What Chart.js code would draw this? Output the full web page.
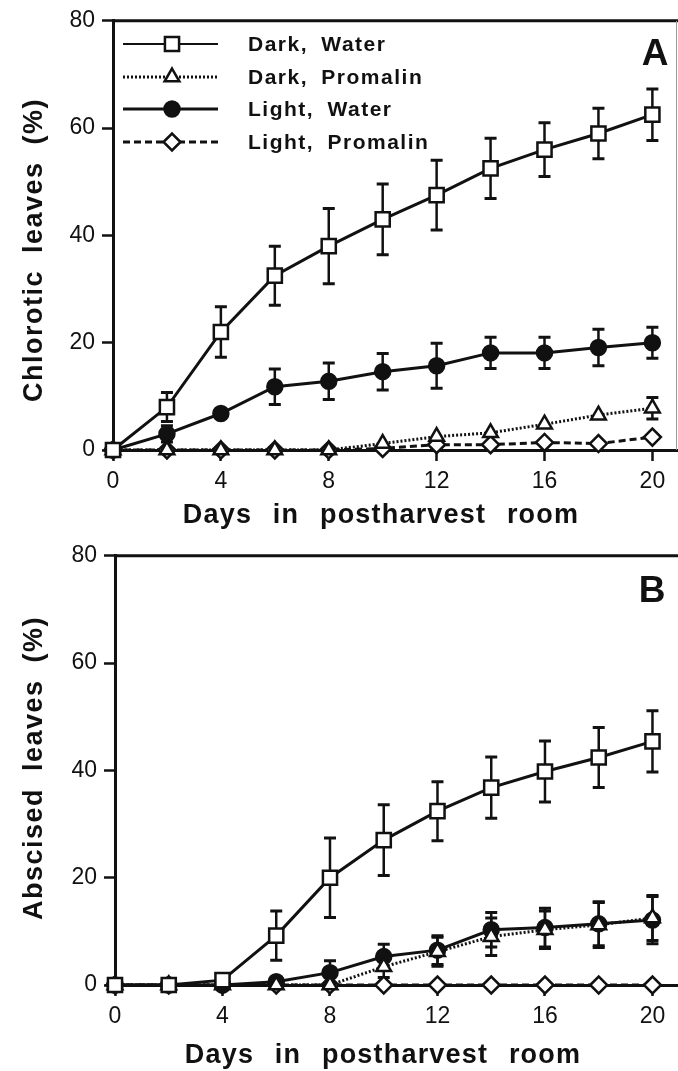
<!DOCTYPE html>
<html>
<head>
<meta charset="utf-8">
<title>Chlorotic and abscised leaves</title>
<script src="https://cdn.jsdelivr.net/npm/chart.js@4.4.1/dist/chart.umd.min.js"></script>
<style>
    html, body { margin: 0; padding: 0; background: #fff; overflow: hidden; }
    .panel { position: absolute; left: 0; width: 678px; }
    #panel-a { top: 0; height: 535px; }
    #panel-b { top: 535px; height: 536px; }
</style>
</head>
<body>
<div class="panel" id="panel-a"><canvas id="chartA" width="678" height="535"></canvas></div>
<div class="panel" id="panel-b"><canvas id="chartB" width="678" height="536"></canvas></div>
<script>
// Shared axis data
const days = [0, 2, 4, 6, 8, 10, 12, 14, 16, 18, 20];
const xTicks = [0, 4, 8, 12, 16, 20];
const yTicks = [0, 20, 40, 60, 80];
const seriesLabels = ['Dark, Water', 'Dark, Promalin', 'Light, Water', 'Light, Promalin'];

// Panel A - chlorotic leaves (%)
const chloroticDarkWater = [0, 8, 22, 32.5, 38, 43, 47.5, 52.5, 56, 59, 62.5];
const chloroticDarkWaterErr = [0, 2.7, 4.7, 5.5, 7, 6.6, 6.5, 5.6, 5, 4.7, 4.8];
const chloroticDarkPromalin = [0, 0, 0, 0, 0, 1.2, 2.5, 3.2, 4.8, 6.5, 7.8];
const chloroticDarkPromalinErr = [0, 0, 0, 0, 0, 0, 0, 0, 0, 0, 2];
const chloroticLightWater = [0, 3, 6.8, 11.8, 12.8, 14.6, 15.7, 18.1, 18.1, 19.1, 20];
const chloroticLightWaterErr = [0, 1.5, 0, 3.3, 3.4, 3.4, 4.2, 2.9, 2.9, 3.4, 2.9];
const chloroticLightPromalin = [0, 0, 0, 0, 0, 0.3, 1, 1, 1.4, 1.2, 2.4];
const chloroticLightPromalinErr = [0, 0, 0, 0, 0, 0, 0, 0, 0, 0, 0];

// Panel B - abscised leaves (%)
const abscisedDarkWater = [0, 0, 0.9, 9.2, 20, 27, 32.4, 36.8, 39.8, 42.4, 45.4];
const abscisedDarkWaterErr = [0, 0, 1, 4.6, 7.4, 6.6, 5.5, 5.7, 5.7, 5.6, 5.7];
const abscisedDarkPromalin = [0, 0, 0, 0, 0, 3.4, 6.2, 9, 10.3, 11.2, 12.5];
const abscisedDarkPromalinErr = [0, 0, 0, 0, 0, 2, 2.7, 3.5, 3.5, 4.2, 4.2];
const abscisedLightWater = [0, 0, 0, 0.6, 2.3, 5.3, 6.5, 10.3, 10.7, 11.4, 12.1];
const abscisedLightWaterErr = [0, 0, 0, 0, 2.2, 2.3, 2.7, 3.2, 3.6, 4.1, 4.4];
const abscisedLightPromalin = [0, 0, 0, 0, 0, 0, 0, 0, 0, 0, 0];
const abscisedLightPromalinErr = [0, 0, 0, 0, 0, 0, 0, 0, 0, 0, 0];

const INK = '#111';
const FONT_FAMILY = '"Liberation Sans", Arial, Helvetica, sans-serif';

// Marker and line look for each treatment (same order as seriesLabels)
const seriesStyles = [
    { pointStyle: 'rect', radius: 10, fill: '#fff', dash: [], width: 3 },
    { pointStyle: 'triangle', radius: 8.5, fill: '#fff', dash: [2, 2], width: 3 },
    { pointStyle: 'circle', radius: 7.5, fill: INK, dash: [], width: 3 },
    { pointStyle: 'rectRot', radius: 8.5, fill: '#fff', dash: [7, 4], width: 3 }
];

document.addEventListener('DOMContentLoaded', function() {
    createPanel('chartA', {
        values: [chloroticDarkWater, chloroticDarkPromalin, chloroticLightWater, chloroticLightPromalin],
        errors: [chloroticDarkWaterErr, chloroticDarkPromalinErr, chloroticLightWaterErr, chloroticLightPromalinErr],
        padding: { left: 53, top: 17, right: 0, bottom: 35 },
        decor: {
            yTitle: 'Chlorotic leaves (%)',
            yTitlePos: [42, 250],
            xTitle: 'Days in postharvest room',
            xTitlePos: [381, 523],
            label: 'A',
            labelPos: [655, 65],
            legend: true,
            rightBorder: true
        }
    });

    createPanel('chartB', {
        values: [abscisedDarkWater, abscisedDarkPromalin, abscisedLightWater, abscisedLightPromalin],
        errors: [abscisedDarkWaterErr, abscisedDarkPromalinErr, abscisedLightWaterErr, abscisedLightPromalinErr],
        padding: { left: 55, top: 19, right: 0, bottom: 36 },
        decor: {
            yTitle: 'Abscised leaves (%)',
            yTitlePos: [42, 233],
            xTitle: 'Days in postharvest room',
            xTitlePos: [383, 528],
            label: 'B',
            labelPos: [652, 67],
            legend: false,
            rightBorder: false
        }
    });
});

// Build one panel (line chart with error bars)
function createPanel(canvasId, panel) {
    const ctx = document.getElementById(canvasId);
    const tickFont = { family: FONT_FAMILY, size: 23, weight: 'normal' };

    const datasets = seriesLabels.map((label, s) => {
        const style = seriesStyles[s];
        return {
            label: label,
            data: days.map((d, i) => ({ x: d, y: panel.values[s][i] })),
            errors: panel.errors[s],
            borderColor: INK,
            borderWidth: style.width,
            borderDash: style.dash,
            pointStyle: style.pointStyle,
            pointRadius: style.radius,
            pointBackgroundColor: style.fill,
            pointBorderColor: INK,
            pointBorderWidth: 2.5,
            fill: false,
            tension: 0,
            clip: false
        };
    });

    return new Chart(ctx, {
        type: 'line',
        data: { datasets: datasets },
        options: {
            responsive: false,
            animation: false,
            events: [],
            layout: { padding: panel.padding, autoPadding: false },
            scales: {
                x: {
                    type: 'linear',
                    min: 0,
                    max: 20.95,
                    bounds: 'data',
                    afterBuildTicks: scale => { scale.ticks = xTicks.map(v => ({ value: v })); },
                    afterFit: scale => {
                        scale.height = 50;
                        scale.paddingLeft = 0;
                        scale.paddingRight = 0;
                    },
                    grid: { drawOnChartArea: false, drawTicks: true, tickLength: 11, tickWidth: 2.5, tickColor: INK },
                    border: { display: true, color: INK, width: 3 },
                    ticks: { color: INK, padding: 7, font: tickFont, maxRotation: 0, autoSkip: false }
                },
                y: {
                    type: 'linear',
                    min: 0,
                    max: 80,
                    bounds: 'data',
                    afterBuildTicks: scale => { scale.ticks = yTicks.map(v => ({ value: v })); },
                    afterFit: scale => { scale.width = 60; },
                    grid: { drawOnChartArea: false, drawTicks: true, tickLength: 11, tickWidth: 2.5, tickColor: INK },
                    border: { display: true, color: INK, width: 3 },
                    ticks: { color: INK, padding: 7, font: tickFont, autoSkip: false }
                }
            },
            plugins: {
                legend: { display: false },
                tooltip: { enabled: false },
                panelDecor: panel.decor
            }
        },
        plugins: [errorBarPlugin, panelDecorPlugin]
    });
}

// Vertical error bars with caps, drawn under the markers
const errorBarPlugin = {
    id: 'errorBars',
    beforeDatasetsDraw(chart) {
        const ctx = chart.ctx;
        const xScale = chart.scales.x;
        const yScale = chart.scales.y;
        const cap = 6;

        ctx.save();
        ctx.strokeStyle = INK;
        chart.data.datasets.forEach(ds => {
            if (!ds.errors) return;
            ds.data.forEach((pt, i) => {
                const err = ds.errors[i];
                if (!err) return;
                const x = xScale.getPixelForValue(pt.x);
                const yTop = yScale.getPixelForValue(pt.y + err);
                const yBot = yScale.getPixelForValue(pt.y - err);

                ctx.lineWidth = 2.5;
                ctx.beginPath();
                ctx.moveTo(x, yTop);
                ctx.lineTo(x, yBot);
                ctx.stroke();

                ctx.lineWidth = 3;
                ctx.beginPath();
                ctx.moveTo(x - cap, yTop);
                ctx.lineTo(x + cap, yTop);
                ctx.moveTo(x - cap, yBot);
                ctx.lineTo(x + cap, yBot);
                ctx.stroke();
            });
        });
        ctx.restore();
    }
};

// Frame, axis titles, panel letter and the legend box
const panelDecorPlugin = {
    id: 'panelDecor',
    afterDraw(chart, args, opts) {
        const ctx = chart.ctx;
        const area = chart.chartArea;

        // Top frame line (and faint right edge on panel A)
        ctx.save();
        ctx.strokeStyle = INK;
        ctx.lineWidth = 3;
        ctx.beginPath();
        ctx.moveTo(area.left, area.top);
        ctx.lineTo(area.right, area.top);
        ctx.stroke();
        if (opts.rightBorder) {
            ctx.strokeStyle = '#9a9a9a';
            ctx.lineWidth = 1;
            ctx.beginPath();
            ctx.moveTo(area.right - 1.5, area.top);
            ctx.lineTo(area.right - 1.5, area.bottom);
            ctx.stroke();
        }
        ctx.restore();

        drawSpacedText(ctx, opts.xTitle, opts.xTitlePos[0], opts.xTitlePos[1], 'bold 27px ' + FONT_FAMILY, 1.2, 12, false);
        drawSpacedText(ctx, opts.yTitle, opts.yTitlePos[0], opts.yTitlePos[1], 'bold 27px ' + FONT_FAMILY, 1.5, 8, true);
        drawSpacedText(ctx, opts.label, opts.labelPos[0], opts.labelPos[1], 'bold 37px ' + FONT_FAMILY, 0, 0, false);

        if (opts.legend) {
            drawLegend(chart);
        }
    }
};

function drawSpacedText(ctx, text, x, y, font, spacing, wordGap, rotate) {
    ctx.save();
    ctx.font = font;
    ctx.letterSpacing = spacing + 'px';
    ctx.wordSpacing = wordGap + 'px';
    ctx.fillStyle = INK;
    ctx.textAlign = 'center';
    ctx.textBaseline = 'alphabetic';
    ctx.translate(x, y);
    if (rotate) ctx.rotate(-Math.PI / 2);
    ctx.fillText(text, 0, 0);
    ctx.restore();
}

// Legend: short line with the marker in the middle, label to the right
function drawLegend(chart) {
    const ctx = chart.ctx;
    const rowY = [44, 77, 109, 142];
    const lineStart = 123;
    const lineEnd = 218;
    const markerX = 172;
    const textX = 248;

    chart.data.datasets.forEach((ds, i) => {
        const y = rowY[i];
        ctx.save();
        ctx.strokeStyle = INK;
        ctx.lineWidth = i === 0 ? 2.2 : ds.borderWidth;
        ctx.setLineDash(ds.borderDash || []);
        ctx.beginPath();
        ctx.moveTo(lineStart, y);
        ctx.lineTo(lineEnd, y);
        ctx.stroke();
        ctx.setLineDash([]);

        ctx.fillStyle = ds.pointBackgroundColor;
        ctx.strokeStyle = INK;
        ctx.lineWidth = ds.pointBorderWidth;
        Chart.helpers.drawPoint(ctx, {
            pointStyle: ds.pointStyle,
            radius: ds.pointRadius,
            rotation: 0,
            borderWidth: ds.pointBorderWidth
        }, markerX, y);

        ctx.font = 'bold 21px ' + FONT_FAMILY;
        ctx.letterSpacing = '1.5px';
        ctx.wordSpacing = '6px';
        ctx.fillStyle = INK;
        ctx.textAlign = 'left';
        ctx.textBaseline = 'middle';
        ctx.fillText(ds.label, textX, y + 1);
        ctx.restore();
    });
}
</script>
</body>
</html>
